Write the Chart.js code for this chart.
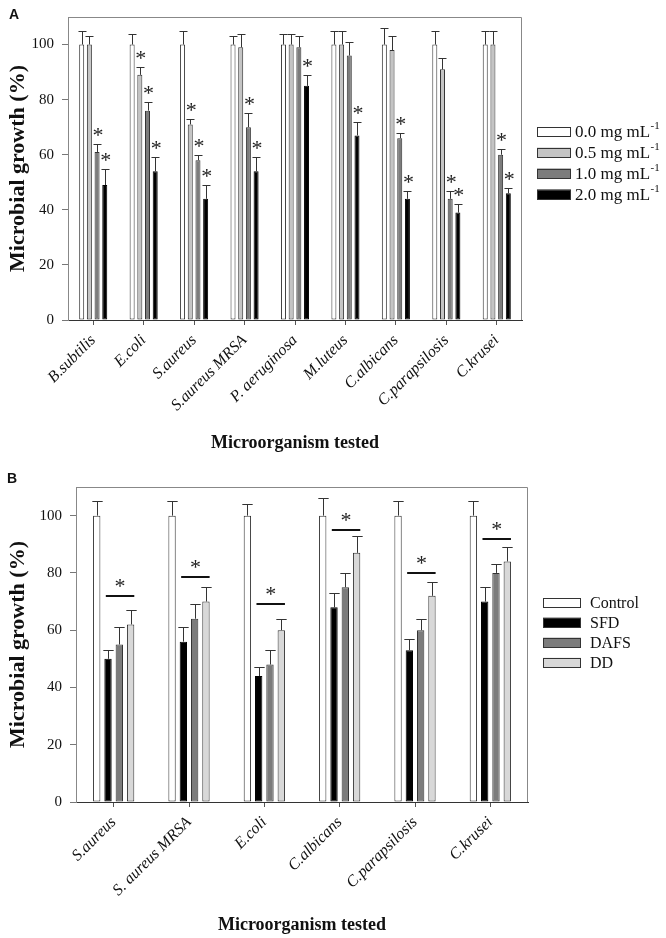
<!DOCTYPE html>
<html><head><meta charset="utf-8">
<script src="https://cdn.jsdelivr.net/npm/chart.js@4.4.1/dist/chart.umd.min.js"></script>
<style>
html,body{margin:0;padding:0;background:#fff;}
#wrap{position:relative;width:666px;height:938px;overflow:hidden;background:#fff;}
canvas{position:absolute;left:0;}
.pl{position:absolute;font:bold 14px 'Liberation Sans',Arial,sans-serif;color:#111;}
</style></head><body>
<div id="wrap">
<canvas id="cA" width="666" height="470" style="top:0;width:666px;height:470px"></canvas>
<canvas id="cB" width="666" height="468" style="top:470px;width:666px;height:468px"></canvas>
<div class="pl" style="left:9px;top:6px">A</div>
<div class="pl" style="left:7px;top:470px">B</div>
</div>
<script>
// ---------- Panel A data ----------
const catsA = ['B.subtilis','E.coli','S.aureus','S.aureus MRSA','P. aeruginosa','M.luteus','C.albicans','C.parapsilosis','C.krusei'];
const concA = ['0.0','0.5','1.0','2.0'];
const a00 = [100,100,100,100,100,100,100,100,100];
const a00err = [5,4,5,3,4,5,6,5,5];
const a05 = [100,89,71,99,100,100,98,91,100];
const a05err = [3,3,2,5,4,5,5,4,5];
const a10 = [61,76,58,70,99,96,66,44,60];
const a10err = [3,3,2,5,4,5,2,3,2];
const a20 = [49,54,44,54,85,67,44,39,46];
const a20err = [6,5,5,5,4,5,3,3,2];
const a00star = [0,0,0,0,0,0,0,0,0];
const a05star = [0,1,1,0,0,0,0,0,0];
const a10star = [1,1,1,1,0,0,1,1,1];
const a20star = [1,1,1,1,1,1,1,1,1];

// ---------- Panel B data ----------
const catsB = ['S.aureus','S. aureus MRSA','E.coli','C.albicans','C.parapsilosis','C.krusei'];
const seriesB = ['Control','SFD','DAFS','DD'];
const bControl = [100,100,100,100,100,100];
const bControlErr = [5,5,4,6,5,5];
const bSFD = [50,56,44,68,53,70];
const bSFDErr = [3,5,3,5,4,5];
const bDAFS = [55,64,48,75,60,80];
const bDAFSErr = [6,5,5,5,4,3];
const bDD = [62,70,60,87,72,84];
const bDDErr = [5,5,4,6,5,5];
const bSigLine = [72,78.5,69,95,80,92];

const yTicks = [0,20,40,60,80,100];
const yMax = 110;

Chart.defaults.font.family = "'Liberation Serif','Times New Roman',serif";
Chart.defaults.color = '#111';
Chart.defaults.animation = false;

const SERIF = "'Liberation Serif','Times New Roman',serif";

function drawStar(ctx, x, cy){
  ctx.save();
  ctx.fillStyle = '#222';
  ctx.font = '22px ' + SERIF;
  ctx.textAlign = 'center';
  ctx.textBaseline = 'alphabetic';
  ctx.fillText('*', x, cy + 10.5);
  ctx.restore();
}

const errorBars = {
  id: 'errorBars',
  afterDatasetsDraw(chart){
    const ctx = chart.ctx, ys = chart.scales.y;
    ctx.save();
    ctx.strokeStyle = '#333'; ctx.lineWidth = 1;
    chart.data.datasets.forEach((ds, di) => {
      if (!ds.errors) return;
      const meta = chart.getDatasetMeta(di);
      meta.data.forEach((el, i) => {
        const v = ds.data[i], e = ds.errors[i];
        const x = Math.round(el.x) + 0.5;
        const top = el.y;
        const cap = Math.round(ys.getPixelForValue(v + e)) + 0.5;
        const hw = el.width / 2 + 1.5;
        ctx.beginPath();
        ctx.moveTo(x, top); ctx.lineTo(x, cap);
        ctx.moveTo(x - hw, cap); ctx.lineTo(x + hw, cap);
        ctx.stroke();
        if (ds.stars && ds.stars[i]) drawStar(ctx, el.x + 1, cap - 13.5);
      });
    });
    // significance lines (panel B)
    const sig = chart.options.plugins.sigLines;
    if (sig && sig.values) {
      const m1 = chart.getDatasetMeta(sig.from), m2 = chart.getDatasetMeta(sig.to);
      sig.values.forEach((v, i) => {
        const a = m1.data[i], b = m2.data[i];
        const y = Math.round(ys.getPixelForValue(v));
        const x1 = a.x - a.width * 0.3, x2 = b.x + b.width / 2;
        ctx.save();
        ctx.strokeStyle = '#111'; ctx.lineWidth = 2;
        ctx.beginPath(); ctx.moveTo(x1, y); ctx.lineTo(x2, y); ctx.stroke();
        ctx.restore();
        drawStar(ctx, (x1 + x2) / 2, y - 13.5);
      });
    }
    ctx.restore();
  }
};

const frame = {
  id: 'frame',
  afterDraw(chart){
    const {ctx, chartArea: ca} = chart;
    ctx.save();
    ctx.strokeStyle = '#888'; ctx.lineWidth = 1;
    ctx.beginPath();
    ctx.moveTo(Math.round(ca.left) + 0.5, Math.round(ca.top) + 0.5);
    ctx.lineTo(Math.round(ca.right) - 0.5, Math.round(ca.top) + 0.5);
    ctx.lineTo(Math.round(ca.right) - 0.5, ca.bottom);
    ctx.stroke();
    ctx.restore();
  }
};

const boxLegend = {
  id: 'boxLegend',
  afterDraw(chart){
    const o = chart.options.plugins.boxLegend;
    if (!o) return;
    const ctx = chart.ctx;
    ctx.save();
    chart.data.datasets.forEach((ds, i) => {
      const cy = o.y + i * o.dy;
      ctx.fillStyle = ds.backgroundColor;
      ctx.fillRect(o.x, cy - o.h / 2, o.w, o.h);
      ctx.strokeStyle = '#333'; ctx.lineWidth = 1;
      ctx.strokeRect(o.x + 0.5, Math.round(cy - o.h / 2) + 0.5, o.w - 1, o.h - 1);
      ctx.fillStyle = '#111';
      ctx.font = o.size + 'px ' + SERIF;
      ctx.textAlign = 'left'; ctx.textBaseline = 'middle';
      const base = ds.legendText;
      ctx.fillText(base, o.tx, cy + 1);
      if (ds.legendSup) {
        const w = ctx.measureText(base).width;
        ctx.font = Math.round(o.size * 0.62) + 'px ' + SERIF;
        ctx.fillText(ds.legendSup, o.tx + w + 0.5, cy - 5);
      }
    });
    ctx.restore();
  }
};

function makeChart(id, cats, datasets, cfg){
  return new Chart(document.getElementById(id), {
    type: 'bar',
    data: { labels: cats, datasets },
    plugins: [errorBars, frame, boxLegend],
    options: {
      responsive: false,
      maintainAspectRatio: false,
      animation: false,
      layout: { padding: { left: 0, top: cfg.top, right: cfg.right, bottom: 0 } },
      datasets: { bar: { categoryPercentage: cfg.catPct, barPercentage: cfg.barPct, borderWidth: 1, borderSkipped: false } },
      plugins: {
        legend: { display: false },
        tooltip: { enabled: false },
        boxLegend: cfg.legend,
        sigLines: cfg.sig || null
      },
      scales: {
        x: {
          grid: { drawOnChartArea: false, offset: false, tickLength: 5, color: '#555' },
          border: { display: true, color: '#333', width: 1 },
          ticks: { autoSkip: false, minRotation: 45, maxRotation: 45, padding: 6,
                   font: { size: 16, style: 'italic', family: SERIF }, color: '#111' },
          title: { display: true, text: 'Microorganism tested',
                   font: { size: 18, weight: 'bold', family: SERIF }, color: '#111',
                   padding: { top: 0, bottom: cfg.xTitlePad } },
          afterFit(s){ s.height = cfg.xHeight; }
        },
        y: {
          min: 0, max: yMax,
          afterBuildTicks(s){ s.ticks = yTicks.map(v => ({ value: v })); },
          grid: { drawOnChartArea: false, tickLength: 6, color: '#777' },
          border: { display: true, color: '#888', width: 1 },
          ticks: { padding: 8, font: { size: 15, family: SERIF }, color: '#111' },
          title: { display: true, text: 'Microbial growth (%)',
                   font: { size: 22, weight: 'bold', family: SERIF }, color: '#111',
                   padding: { top: 5, bottom: 0 } },
          afterFit(s){ s.width = cfg.left; }
        }
      }
    }
  });
}

// Panel A
const colA = ['#ffffff', '#c4c4c4', '#7c7c7c', '#000000'];
const dataA = [a00, a05, a10, a20];
const errA = [a00err, a05err, a10err, a20err];
const starA = [a00star, a05star, a10star, a20star];
makeChart('cA', catsA, concA.map((c, i) => ({
  label: c + ' mg mL-1', legendText: c + ' mg mL', legendSup: '-1',
  data: dataA[i], errors: errA[i], stars: starA[i],
  backgroundColor: colA[i], borderColor: i === 3 ? '#000' : '#333'
})), {
  top: 2, right: 144, left: 68, xHeight: 150, xTitlePad: 16,
  catPct: 0.61, barPct: 0.65,
  legend: { x: 537, y: 131.5, dy: 21, w: 34, h: 10, tx: 575, size: 17 }
});

// Panel B
const colB = ['#ffffff', '#000000', '#7c7c7c', '#d8d8d8'];
const dataB = [bControl, bSFD, bDAFS, bDD];
const errB = [bControlErr, bSFDErr, bDAFSErr, bDDErr];
makeChart('cB', catsB, seriesB.map((s, i) => ({
  label: s, legendText: s,
  data: dataB[i], errors: errB[i],
  backgroundColor: colB[i], borderColor: i === 1 ? '#000' : '#333'
})), {
  top: 15, right: 138, left: 76, xHeight: 136, xTitlePad: 2,
  catPct: 0.6, barPct: 0.65,
  legend: { x: 543, y: 132.7, dy: 20, w: 38, h: 10, tx: 590, size: 16 },
  sig: { values: bSigLine, from: 1, to: 3 }
});
</script>
</body></html>
